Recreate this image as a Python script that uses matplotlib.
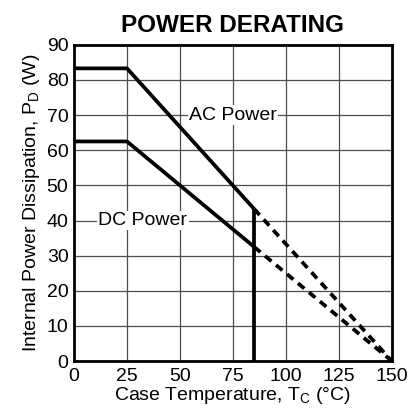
import numpy as np
import matplotlib.pyplot as plt

plt.rcParams['font.family'] = ['Liberation Sans', 'DejaVu Sans']
plt.rcParams['mathtext.fontset'] = 'custom'
plt.rcParams['mathtext.rm'] = 'Liberation Sans'

# data
ac_temp = [0, 25, 85]
ac_power = [83.3, 83.3, 43.3]
ac_dash_temp = [85, 150]
ac_dash_power = [43.3, 0]

dc_temp = [0, 25, 85]
dc_power = [62.5, 62.5, 32.5]
dc_dash_temp = [85, 150]
dc_dash_power = [32.5, 0]

limit_temp = 85
limit_top = 43.3

x_ticks = [0, 25, 50, 75, 100, 125, 150]
y_ticks = [0, 10, 20, 30, 40, 50, 60, 70, 80, 90]

fig = plt.figure(figsize=(4.09, 4.15), dpi=100)
ax = fig.add_axes([0.181, 0.130, 0.777, 0.762])

ax.plot(ac_temp, ac_power, color='black', lw=2.7, solid_capstyle='butt', zorder=3)
ax.plot(dc_temp, dc_power, color='black', lw=2.7, solid_capstyle='butt', zorder=3)
ax.plot(ac_dash_temp, ac_dash_power, color='black', lw=2.7, ls=(0, (2.2, 1.6)), zorder=3)
ax.plot(dc_dash_temp, dc_dash_power, color='black', lw=2.7, ls=(0, (2.2, 1.6)), zorder=3)
ax.plot([limit_temp, limit_temp], [0, limit_top], color='black', lw=2.7, solid_capstyle='butt', zorder=3)

ax.set_xlim(0, 150)
ax.set_ylim(0, 90)
ax.set_xticks(x_ticks)
ax.set_yticks(y_ticks)
ax.grid(True, color='#4d4d4d', lw=0.9)
ax.set_axisbelow(True)
ax.tick_params(length=0, labelsize=14)
ax.tick_params(axis='x', pad=5)
ax.tick_params(axis='y', pad=4)
for s in ax.spines.values():
    s.set_linewidth(2)

ax.text(75, 70, 'AC Power', fontsize=14, ha='center', va='center',
        bbox=dict(facecolor='white', edgecolor='none', pad=1.0), zorder=2)
ax.text(32.5, 40, 'DC Power', fontsize=14, ha='center', va='center',
        bbox=dict(facecolor='white', edgecolor='none', pad=1.0), zorder=2)

ax.set_xlabel('Case Temperature, T$_\\mathregular{C}$ (°C)', fontsize=14, labelpad=0)
ax.set_ylabel('Internal Power Dissipation, P$_\\mathregular{D}$ (W)', fontsize=14, labelpad=3)
ax.set_title('POWER DERATING', fontsize=17.5, fontweight='bold', pad=9)

fig.savefig('out.png', dpi=100)
